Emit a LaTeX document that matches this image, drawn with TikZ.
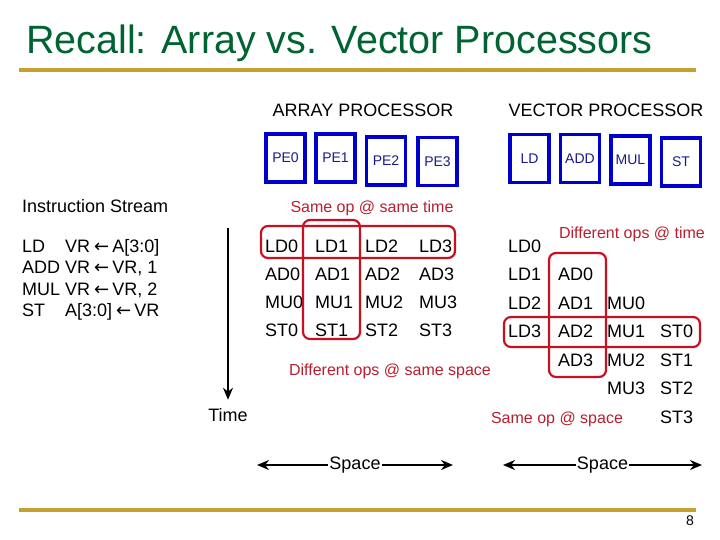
\documentclass[tikz,border=0pt]{standalone}
\usepackage{fontspec}
\setmainfont{Liberation Sans}
\newfontfamily\symfont{DejaVu Sans}
\usetikzlibrary{arrows.meta}
\definecolor{titlegreen}{RGB}{0,100,50}
\definecolor{rulegold}{RGB}{196,160,48}
\definecolor{boxred}{RGB}{200,16,32}
\definecolor{notered}{RGB}{185,30,45}
\definecolor{peblue}{RGB}{0,0,205}
\definecolor{penavy}{RGB}{25,25,140}
% left arrow of the instruction stream
\newcommand{\getsarrow}{\kern4pt{\symfont\fontsize{18}{18}\selectfont ←}\kern3pt}

\begin{document}
\begin{tikzpicture}[x=1pt, y=-1pt, inner sep=0pt]
\useasboundingbox (0,0) rectangle (720,540);
\tikzset{txt/.style={font=\fontsize{18}{20}\selectfont, anchor=base west},
         note/.style={font=\fontsize{16}{18}\selectfont, text=notered, anchor=base},
         unit/.style={draw=peblue, line width=3.6pt, minimum width=39pt, minimum height=48pt,
                      text=penavy, font=\fontsize{14}{16}\selectfont},
         grp/.style={draw=boxred, line width=2.2pt, rounded corners=7pt},
         axis/.style={line width=2.6pt, -{Stealth[length=12pt, width=10pt]}},
         span/.style={line width=2.6pt, {Stealth[length=12pt, width=10pt]}-{Stealth[length=12pt, width=10pt]}},
         goldrule/.style={draw=rulegold, line width=3.2pt}}

% ---- title and rules
\node[font=\fontsize{39.5}{44}\selectfont, text=titlegreen, anchor=base west] (title) at (26,54) {Recall: Array vs. Vector Processors};
\draw[goldrule] (19,70) -- (696,70);
\draw[goldrule] (19,510) -- (696,510);
\node[font=\fontsize{14}{16}\selectfont, anchor=base] (pageno) at (690,525) {8};

% ---- headers
\node[txt, anchor=base] (arrhead) at (363,117) {ARRAY PROCESSOR};
\node[txt, anchor=base] (vechead) at (606,117) {VECTOR PROCESSOR};

% ---- processing elements / functional units
\node[unit] (pe0) at (285.5,158) {PE0};
\node[unit] (pe1) at (335.5,158) {PE1};
\node[unit] (pe2) at (386,161) {PE2};
\node[unit] (pe3) at (437.5,161.5) {PE3};
\node[unit] (fuLD) at (529.5,158.5) {LD};
\node[unit] (fuADD) at (580,158.5) {ADD};
\node[unit] (fuMUL) at (630.5,160) {MUL};
\node[unit] (fuST) at (681,162) {ST};

% ---- instruction stream
\node[txt] (stream) at (22,213) {Instruction Stream};
\node[txt] (mn0) at (22,252) {LD};    \node[txt] (arg0) at (65,252) {VR\getsarrow A[3:0]};
\node[txt] (mn1) at (22,273.5) {ADD}; \node[txt] (arg1) at (65,273.5) {VR\getsarrow VR, 1};
\node[txt] (mn2) at (22,295) {MUL};   \node[txt] (arg2) at (65,295) {VR\getsarrow VR, 2};
\node[txt] (mn3) at (22,316.5) {ST};  \node[txt] (arg3) at (65,316.5) {A[3:0]\getsarrow VR};

% ---- array processor: op r in row r, element c in column c
\foreach \op/\r in {LD/0,AD/1,MU/2,ST/3}
  \foreach \c/\x in {0/265,1/315,2/365,3/419}
    \node[txt] (a\op\c) at (\x,{252+28.3*\r}) {\op\c};
\draw[grp] (261,226) rectangle (455,258);   % same op, same time
\draw[grp] (303,220) rectangle (360,339);   % same PE, different ops
\node[note] (sametime) at (372,212) {Same op @ same time};
\node[note] (samespace) at (390,375) {Different ops @ same space};

% ---- vector processor: op k starts k rows later
\foreach \op/\k/\x in {LD/0/508,AD/1/558,MU/2/607,ST/3/660}
  \foreach \i in {0,...,3}
    \node[txt] (v\op\i) at (\x,{252+28.5*(\i+\k)}) {\op\i};
\draw[grp] (549,253) rectangle (606,377);   % same unit over time
\draw[grp] (504,317) rectangle (700,347);   % different ops, one cycle
\node[note] (difftime) at (632,238) {Different ops @ time};
\node[note] (opspace) at (557,423) {Same op @ space};

% ---- time and space axes
\coordinate (tstart) at (228,228);
\node[txt, anchor=base] (time) at (228,421) {Time};
\draw[axis, shorten >=8pt] (tstart) -- (time.north);
\coordinate (spL1) at (257,465); \coordinate (spR1) at (453,465);
\draw[span] (spL1) -- (spR1) node[midway, fill=white, inner sep=1pt, font=\fontsize{18}{20}\selectfont] (spaceA) {Space};
\coordinate (spL2) at (503,465); \coordinate (spR2) at (702,465);
\draw[span] (spL2) -- (spR2) node[midway, fill=white, inner sep=1pt, font=\fontsize{18}{20}\selectfont] (spaceV) {Space};
\end{tikzpicture}
\end{document}
